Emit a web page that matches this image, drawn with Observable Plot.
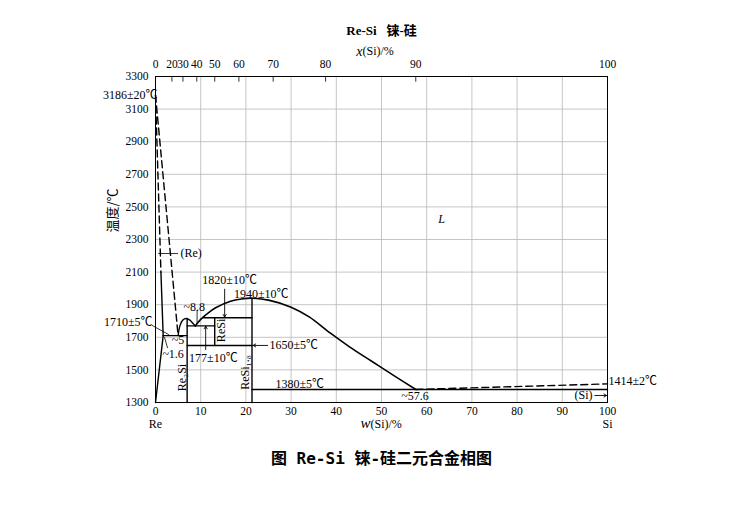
<!DOCTYPE html>
<html>
<head>
<meta charset="utf-8">
<script src="https://cdn.jsdelivr.net/npm/d3@7"></script>
<script src="https://cdn.jsdelivr.net/npm/@observablehq/plot@0.6"></script>
<style>
  html, body { margin: 0; padding: 0; background: #fff; }
  #chart svg { display: block; }
</style>
</head>
<body>
<div id="chart"></div>
<script>
// ---------- data (w(Si) in wt%, T in °C) ----------
const bottomTicks = [0, 10, 20, 30, 40, 50, 60, 70, 80, 90, 100];
const yTicks = [1300, 1500, 1700, 1900, 2100, 2300, 2500, 2700, 2900, 3100, 3300];
const topTicksAt = [0, 20, 30, 40, 50, 60, 70, 80, 90, 100]; // x(Si) at.%
const molarMass = {Si: 28.086, Re: 186.207};

// curves as [w, T] pairs
const liquidusRe      = [[0, 3186], [5.0, 1710]];                 // dashed
const solidusReDashed = [[0, 3186], [1.2, 2100]];                 // dashed
const solidusReSolid  = [[1.2, 2100], [1.7, 1710]];
const solvusRe        = [[1.7, 1710], [0, 1300]];
const liquidusRe2Si   = [[5.0, 1710], [5.4, 1770], [6.0, 1805], [6.8, 1815], [7.6, 1805], [8.3, 1785], [8.8, 1770]];
const liquidusDome    = [[8.8, 1770], [10, 1810], [11.4, 1844], [13.3, 1881], [16.6, 1921], [19, 1935], [21.35, 1940],
                         [25, 1928], [30, 1885], [34, 1825], [38.7, 1725], [43, 1640], [48, 1550], [53, 1460], [57.6, 1380]];
const liquidusSi      = [[57.6, 1380], [100, 1414]];              // dashed
const invariantLines  = [
  [[1.7, 1710], [7.0, 1710]],
  [[7.0, 1300], [7.0, 1815]],
  [[7.0, 1770], [13.1, 1770]],
  [[13.1, 1650], [13.1, 1820]],
  [[10.6, 1820], [21.35, 1820]],
  [[7.0, 1650], [21.35, 1650]],
  [[21.35, 1300], [21.35, 1940]],
  [[21.35, 1380], [100, 1380]]
];
const leaderLines = [
  [[0.7, 2214], [4.9, 2214]],
  [[-0.7, 1772], [2.9, 1717]],
  [[2.0, 1699], [2.65, 1637]],
  [[9.2, 1865], [9.2, 1786]]
];
const arrows = [
  [[15.3, 1995], [15.3, 1824]],
  [[11.1, 1625], [11.1, 1768]],
  [[24.8, 1650], [21.6, 1650]],
  [[97.2, 1343], [99.8, 1343]]
];
// annotation texts: [text, w, T]
const labelsMiddle = [
  ["~1.6", 3.9, 1594], ["~5", 5.0, 1680], ["~8.8", 8.6, 1883],
  ["1820±10℃", 16.4, 2050], ["1940±10℃", 23.4, 1963], ["177±10℃", 12.8, 1575],
  ["1380±5℃", 31.9, 1410], ["~57.6", 57.4, 1337], ["(Si)", 94.7, 1343]
];
const labelsStart = [["(Re)", 5.3, 2214], ["1650±5℃", 25.0, 1650], ["1414±2℃", 100, 1429]];
const labelsEnd = [["3186±20℃", 0, 3186], ["1710±5℃", -1.1, 1793]];
const labelsRotated = [["ReSi", 14.6, 1742], ["Re₂Si", 6.0, 1453], ["ReSi₁.₈", 19.9, 1484]];
const phaseLabel = [["L", 63.3, 2423]];
const endLabels = [["Re", 0], ["Si", 100]];
const title = "Re-Si   铼-硅";
const caption = "图 Re-Si 铼-硅二元合金相图";
const yLabel = "温度/℃";

// ---------- helpers ----------
const pts = arr => arr.map(([w, T]) => ({w, T}));
const segs = arr => arr.flatMap(([a, b], i) => [{w: a[0], T: a[1], g: i}, {w: b[0], T: b[1], g: i}]);
const segObjs = arr => arr.map(([a, b]) => ({x1: a[0], y1: a[1], x2: b[0], y2: b[1]}));
const txt = arr => arr.map(([t, w, T]) => ({t, w, T}));
const atToWt = a => 100 * a * molarMass.Si / (a * molarMass.Si + (100 - a) * molarMass.Re);
const topTicksW = topTicksAt.map(atToWt);
const topLabelMap = new Map(topTicksW.map((w, i) => [w, String(topTicksAt[i])]));

const serif = "Liberation Serif, Times New Roman, serif";
const cjk = "Liberation Serif, Noto Sans CJK SC, serif";
const lineW = 1.4;
const dash = "7,4";

const chart = Plot.plot({
  width: 730,
  height: 513,
  marginLeft: 155,
  marginRight: 123,
  marginTop: 76,
  marginBottom: 111,
  x: {domain: [0, 100]},
  y: {domain: [1300, 3300]},
  style: {fontFamily: serif, fontSize: "12px", background: "#fff", color: "#000"},
  marks: [
    // grid
    Plot.gridX(bottomTicks.slice(1, -1), {stroke: "#b8b8b8", strokeOpacity: 1, strokeWidth: 0.8}),
    Plot.gridY(yTicks.slice(1, -1), {stroke: "#b8b8b8", strokeOpacity: 1, strokeWidth: 0.8}),
    // axes
    Plot.axisX({anchor: "bottom", ticks: bottomTicks, tickFormat: d => String(d), tickSize: 0, tickPadding: 4, label: null, fontSize: 11.5, fontFamily: serif}),
    Plot.axisY({anchor: "left", ticks: yTicks, tickFormat: d => String(d), tickSize: 0, tickPadding: 7, label: null, fontSize: 11.5, fontFamily: serif}),
    Plot.axisX({anchor: "top", ticks: topTicksW, tickFormat: d => topLabelMap.get(d), tickSize: 0, tickPadding: 9, label: null, fontSize: 11.5, fontFamily: serif}),
    Plot.ruleX(topTicksW, {y1: 3300, y2: 3265, stroke: "#000", strokeWidth: 0.8}),
    Plot.frame({stroke: "#000", strokeWidth: 1}),
    // phase boundaries
    Plot.line(pts(liquidusRe), {x: "w", y: "T", stroke: "#000", strokeWidth: lineW, strokeDasharray: dash}),
    Plot.line(pts(solidusReDashed), {x: "w", y: "T", stroke: "#000", strokeWidth: lineW, strokeDasharray: dash}),
    Plot.line(pts(solidusReSolid), {x: "w", y: "T", stroke: "#000", strokeWidth: lineW}),
    Plot.line(pts(solvusRe), {x: "w", y: "T", stroke: "#000", strokeWidth: lineW}),
    Plot.line(pts(liquidusRe2Si), {x: "w", y: "T", stroke: "#000", strokeWidth: lineW, curve: "catmull-rom"}),
    Plot.line(pts(liquidusDome), {x: "w", y: "T", stroke: "#000", strokeWidth: 1.6, curve: "catmull-rom"}),
    Plot.line(pts(liquidusSi), {x: "w", y: "T", stroke: "#000", strokeWidth: lineW, strokeDasharray: dash}),
    Plot.line(segs(invariantLines), {x: "w", y: "T", z: "g", stroke: "#000", strokeWidth: lineW}),
    // leaders and arrows
    Plot.line(segs(leaderLines), {x: "w", y: "T", z: "g", stroke: "#000", strokeWidth: 0.8}),
    Plot.arrow(segObjs(arrows), {x1: "x1", y1: "y1", x2: "x2", y2: "y2", stroke: "#000", strokeWidth: 0.9, headLength: 5}),
    // annotation texts
    Plot.text(txt(labelsMiddle), {x: "w", y: "T", text: "t", textAnchor: "middle", fontSize: 12, fontFamily: cjk, fill: "#000"}),
    Plot.text(txt(labelsStart), {x: "w", y: "T", text: "t", textAnchor: "start", dx: 1, fontSize: 12, fontFamily: cjk, fill: "#000"}),
    Plot.text(txt(labelsEnd), {x: "w", y: "T", text: "t", textAnchor: "end", dx: 2, fontSize: 12, fontFamily: cjk, fill: "#000"}),
    Plot.text(txt(labelsRotated), {x: "w", y: "T", text: "t", rotate: -90, fontSize: 12, fontFamily: serif, fill: "#000"}),
    Plot.text(txt(phaseLabel), {x: "w", y: "T", text: "t", fontSize: 12, fontStyle: "italic", fontFamily: serif, fill: "#000"}),
    // end-member labels and axis titles
    Plot.text(endLabels, {x: d => d[1], text: d => d[0], frameAnchor: "bottom", dy: 25, dx: 0, fontSize: 12, fontFamily: serif, fill: "#000"}),
    Plot.text(["w"], {frameAnchor: "bottom", dy: 25, dx: -11, textAnchor: "end", fontSize: 15, fontStyle: "italic", fontFamily: serif, fill: "#000"}),
    Plot.text(["(Si)/%"], {frameAnchor: "bottom", dy: 25, dx: -11, textAnchor: "start", fontSize: 12, fontFamily: serif, fill: "#000"}),
    Plot.text(["x"], {frameAnchor: "top", dy: -30, dx: -19, textAnchor: "end", fontSize: 14, fontStyle: "italic", fontFamily: serif, fill: "#000"}),
    Plot.text(["(Si)/%"], {frameAnchor: "top", dy: -30, dx: -19, textAnchor: "start", fontSize: 12, fontFamily: serif, fill: "#000"}),
    Plot.text([yLabel], {frameAnchor: "left", y: [2343], dx: -43, rotate: -90, fontSize: 13, fontFamily: "Noto Sans CJK SC, sans-serif", fill: "#000"}),
    Plot.text([title], {frameAnchor: "top", dy: -51, fontSize: 13, fontWeight: "bold", fontFamily: cjk, fill: "#000"}),
    Plot.text([caption], {frameAnchor: "bottom", dy: 61, fontSize: 16, fontWeight: "bold", fontFamily: "DejaVu Sans Mono, Noto Sans CJK SC, monospace", fill: "#000"})
  ]
});
document.getElementById("chart").appendChild(chart);
</script>
</body>
</html>
